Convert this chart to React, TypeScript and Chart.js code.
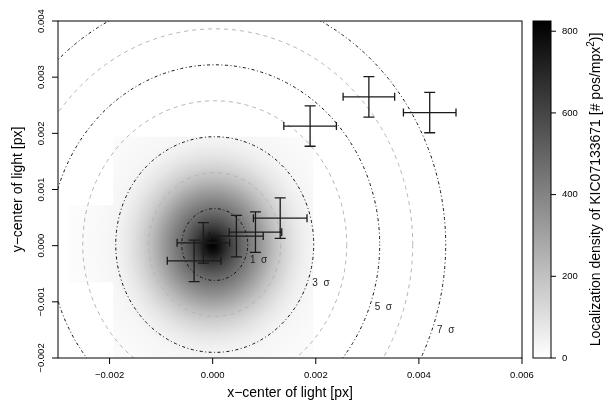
import { useEffect, useRef } from "react";
import { Chart, registerables } from "chart.js";
Chart.register(...registerables);

// ---- axes ----
const X_MIN = -0.003;
const X_MAX = 0.006;
const Y_MIN = -0.002;
const Y_MAX = 0.004;
const X_TICKS = [-0.002, 0, 0.002, 0.004, 0.006];
const X_TICK_LABELS = ["\u22120.002", "0.000", "0.002", "0.004", "0.006"];
const Y_TICKS = [-0.002, -0.001, 0, 0.001, 0.002, 0.003, 0.004];
const Y_TICK_LABELS = ["\u22120.002", "\u22120.001", "0.000", "0.001", "0.002", "0.003", "0.004"];
const CBAR_TICKS = [0, 200, 400, 600, 800];
const CBAR_TICK_LABELS = ["0", "200", "400", "600", "800"];
const X_TITLE = "x\u2212center of light [px]";
const Y_TITLE = "y\u2212center of light [px]";
const CBAR_TITLE_MAIN = "Localization density of KIC07133671 [# pos/mpx";
const CBAR_TITLE_SUP = "2";
const CBAR_TITLE_END = ")]";

// ---- centre-of-light measurements with errors ----
const PX = [-0.00036, -0.00018, 0.00046, 0.00083, 0.00131, 0.00189, 0.00303, 0.00421];
const PY = [-0.00027, 0.00005, 0.00017, 0.00024, 0.00049, 0.00213, 0.00265, 0.00237];
const PX_ERR = [0.00052, 0.00051, 0.00052, 0.00051, 0.00052, 0.00051, 0.0005, 0.00051];
const PY_ERR = [0.00037, 0.00036, 0.00037, 0.00036, 0.00036, 0.00036, 0.00036, 0.00036];

// ---- sigma contours ----
const SIGMA = 0.00064;
const SIGMA_CX = 0.00004;
const SIGMA_CY = 0.00002;
const SIGMA_LEVELS = [1, 2, 3, 4, 5, 6, 7];
const SIGMA_LABELS = ["1  \u03c3", "", "3  \u03c3", "", "5  \u03c3", "", "7  \u03c3"];
const SIGMA_LABEL_ANGLE_DEG = -19;

// ---- localization density (radial profile) ----
const DENS_CX = 0;
const DENS_CY = 0;
const DENS_R = [0, 0.0001, 0.0002, 0.0003, 0.0004, 0.0005, 0.0006, 0.0008, 0.001, 0.0012, 0.0014, 0.0016, 0.0018, 0.002, 0.0024, 0.0028];
const DENS_V = [820, 790, 720, 650, 590, 530, 480, 390, 300, 210, 140, 85, 50, 30, 16, 9];
const DENS_MAX = 825;
// grid extents of the density estimate [xmin, xmax, ymin, ymax]
const DENS_EXT_MAIN = [-0.00193, 0.00195, -0.002, 0.00194];
const DENS_EXT_LEFT = [-0.0028, -0.00193, -0.00065, 0.00072];

const FONT = "'Liberation Sans', Arial, Helvetica, sans-serif";

function grayFor(v: number) {
  const g = Math.round(255 * (1 - Math.min(Math.max(v, 0), DENS_MAX) / DENS_MAX));
  return `rgb(${g},${g},${g})`;
}

const drawPlugin = {
  id: "rplot",
  beforeDatasetsDraw(chart: any) {
    const ctx: CanvasRenderingContext2D = chart.ctx;
    const xs = chart.scales.x;
    const ys = chart.scales.y;
    const X = (v: number) => xs.getPixelForValue(v);
    const Y = (v: number) => ys.getPixelForValue(v);
    const a = chart.chartArea;
    const sx = X(0.001) - X(0); // px per 0.001
    const sy = Y(0) - Y(0.001);

    // density image
    ctx.save();
    ctx.beginPath();
    ctx.rect(a.left, a.top, a.right - a.left, a.bottom - a.top);
    ctx.clip();
    ctx.beginPath();
    for (const e of [DENS_EXT_MAIN, DENS_EXT_LEFT]) {
      ctx.rect(X(e[0]), Y(e[3]), X(e[1]) - X(e[0]), Y(e[2]) - Y(e[3]));
    }
    ctx.clip();
    const rMax = DENS_R[DENS_R.length - 1];
    ctx.translate(X(DENS_CX), Y(DENS_CY));
    ctx.scale(1, sy / sx);
    const R = (rMax / 0.001) * sx;
    const g = ctx.createRadialGradient(0, 0, 0, 0, 0, R);
    DENS_R.forEach((r, i) => g.addColorStop(r / rMax, grayFor(DENS_V[i])));
    ctx.fillStyle = g;
    ctx.fillRect(-R * 3, -R * 3, R * 6, R * 6);
    ctx.restore();

    // sigma contours
    ctx.save();
    ctx.beginPath();
    ctx.rect(a.left, a.top, a.right - a.left, a.bottom - a.top);
    ctx.clip();
    const cx = X(SIGMA_CX);
    const cy = Y(SIGMA_CY);
    SIGMA_LEVELS.forEach((n) => {
      const rx = ((n * SIGMA) / 0.001) * sx;
      const ry = ((n * SIGMA) / 0.001) * sy;
      ctx.beginPath();
      ctx.ellipse(cx, cy, rx, ry, 0, 0, Math.PI * 2);
      if (n % 2 === 1) {
        ctx.strokeStyle = "#111";
        ctx.setLineDash([1, 2.5, 3, 2.5]);
      } else {
        ctx.strokeStyle = "#b4b4b4";
        ctx.setLineDash([4, 4]);
      }
      ctx.lineWidth = 1;
      ctx.stroke();
    });
    ctx.setLineDash([]);
    ctx.fillStyle = "#222";
    ctx.font = `10px ${FONT}`;
    ctx.textAlign = "left";
    ctx.textBaseline = "middle";
    const ang = (SIGMA_LABEL_ANGLE_DEG * Math.PI) / 180;
    SIGMA_LEVELS.forEach((n, i) => {
      const lab = SIGMA_LABELS[i];
      if (!lab) return;
      const px = X(SIGMA_CX + n * SIGMA * Math.cos(ang));
      const py = Y(SIGMA_CY + n * SIGMA * Math.sin(ang));
      ctx.fillText(lab, px + 4, py + 4);
    });
    ctx.restore();
  },
  afterDatasetsDraw(chart: any) {
    const ctx: CanvasRenderingContext2D = chart.ctx;
    const xs = chart.scales.x;
    const ys = chart.scales.y;
    const X = (v: number) => xs.getPixelForValue(v);
    const Y = (v: number) => ys.getPixelForValue(v);
    const a = chart.chartArea;

    // error bars
    ctx.save();
    ctx.strokeStyle = "#1a1a1a";
    ctx.lineWidth = 1.3;
    PX.forEach((xv, i) => {
      const x = X(xv);
      const y = Y(PY[i]);
      const x1 = X(xv - PX_ERR[i]);
      const x2 = X(xv + PX_ERR[i]);
      const y1 = Y(PY[i] + PY_ERR[i]);
      const y2 = Y(PY[i] - PY_ERR[i]);
      ctx.beginPath();
      ctx.moveTo(x1, y);
      ctx.lineTo(x2, y);
      ctx.moveTo(x1, y - 4);
      ctx.lineTo(x1, y + 4);
      ctx.moveTo(x2, y - 4);
      ctx.lineTo(x2, y + 4);
      ctx.moveTo(x, y1);
      ctx.lineTo(x, y2);
      ctx.moveTo(x - 5.5, y1);
      ctx.lineTo(x + 5.5, y1);
      ctx.moveTo(x - 5.5, y2);
      ctx.lineTo(x + 5.5, y2);
      ctx.stroke();
    });
    ctx.restore();

    // box + axes
    ctx.save();
    ctx.strokeStyle = "#000";
    ctx.lineWidth = 1;
    ctx.strokeRect(a.left, a.top, a.right - a.left, a.bottom - a.top);
    ctx.fillStyle = "#000";
    ctx.font = `9.5px ${FONT}`;
    ctx.textAlign = "center";
    ctx.textBaseline = "middle";
    X_TICKS.forEach((t, i) => {
      const x = X(t);
      ctx.beginPath();
      ctx.moveTo(x, a.bottom);
      ctx.lineTo(x, a.bottom + 6);
      ctx.stroke();
      ctx.fillText(X_TICK_LABELS[i], x, a.bottom + 17.5);
    });
    Y_TICKS.forEach((t, i) => {
      const y = Y(t);
      ctx.beginPath();
      ctx.moveTo(a.left, y);
      ctx.lineTo(a.left - 6, y);
      ctx.stroke();
      ctx.save();
      ctx.translate(a.left - 16.5, y);
      ctx.rotate(-Math.PI / 2);
      ctx.fillText(Y_TICK_LABELS[i], 0, 0);
      ctx.restore();
    });
    ctx.font = `14px ${FONT}`;
    ctx.fillText(X_TITLE, (a.left + a.right) / 2, a.bottom + 35);
    ctx.save();
    ctx.translate(22, (a.top + a.bottom) / 2);
    ctx.rotate(-Math.PI / 2);
    ctx.textBaseline = "alphabetic";
    ctx.fillText(Y_TITLE, 0, 0);
    ctx.restore();

    // colour bar
    const cbL = a.right + 11;
    const cbR = a.right + 29;
    const CB = (v: number) => a.bottom - (v / DENS_MAX) * (a.bottom - a.top);
    const lg = ctx.createLinearGradient(0, CB(0), 0, CB(DENS_MAX));
    lg.addColorStop(0, grayFor(0));
    lg.addColorStop(1, grayFor(DENS_MAX));
    ctx.fillStyle = lg;
    ctx.fillRect(cbL, a.top, cbR - cbL, a.bottom - a.top);
    ctx.strokeRect(cbL, a.top, cbR - cbL, a.bottom - a.top);
    ctx.fillStyle = "#000";
    ctx.font = `9.5px ${FONT}`;
    ctx.textAlign = "left";
    ctx.textBaseline = "middle";
    CBAR_TICKS.forEach((t, i) => {
      const y = CB(t);
      ctx.beginPath();
      ctx.moveTo(cbR, y);
      ctx.lineTo(cbR + 5, y);
      ctx.stroke();
      ctx.fillText(CBAR_TICK_LABELS[i], cbR + 11, y);
    });
    // colour bar title (rotated, with superscript)
    ctx.save();
    ctx.translate(a.right + 78, (a.top + a.bottom) / 2);
    ctx.rotate(-Math.PI / 2);
    ctx.textBaseline = "alphabetic";
    ctx.font = `14px ${FONT}`;
    const w1 = ctx.measureText(CBAR_TITLE_MAIN).width;
    const w3 = ctx.measureText(CBAR_TITLE_END).width;
    ctx.font = `10px ${FONT}`;
    const w2 = ctx.measureText(CBAR_TITLE_SUP).width;
    const total = w1 + w2 + w3;
    let x0 = -total / 2;
    ctx.font = `14px ${FONT}`;
    ctx.fillText(CBAR_TITLE_MAIN, x0, 0);
    x0 += w1;
    ctx.font = `10px ${FONT}`;
    ctx.fillText(CBAR_TITLE_SUP, x0, -6);
    x0 += w2;
    ctx.font = `14px ${FONT}`;
    ctx.fillText(CBAR_TITLE_END, x0, 0);
    ctx.restore();
    ctx.restore();
  },
};

export default function App() {
  const ref = useRef<HTMLCanvasElement>(null);
  useEffect(() => {
    document.body.style.margin = "0";
    const canvas = ref.current!;
    const chart = new Chart(canvas, {
      type: "scatter",
      data: {
        datasets: [
          {
            data: PX.map((x, i) => ({ x, y: PY[i] })),
            pointRadius: 0,
            showLine: false,
          },
        ],
      },
      options: {
        responsive: false,
        animation: false,
        devicePixelRatio: 1,
        layout: { padding: { left: 58, top: 21, right: 82, bottom: 47 } },
        scales: {
          x: { type: "linear", min: X_MIN, max: X_MAX, display: false },
          y: { type: "linear", min: Y_MIN, max: Y_MAX, display: false },
        },
        plugins: { legend: { display: false }, tooltip: { enabled: false } },
      },
      plugins: [drawPlugin],
    } as any);
    return () => chart.destroy();
  }, []);
  return (
    <div style={{ position: "absolute", left: 0, top: 0, width: 604, height: 405, background: "#fff" }}>
      <canvas ref={ref} width={604} height={405} style={{ display: "block" }} />
    </div>
  );
}
